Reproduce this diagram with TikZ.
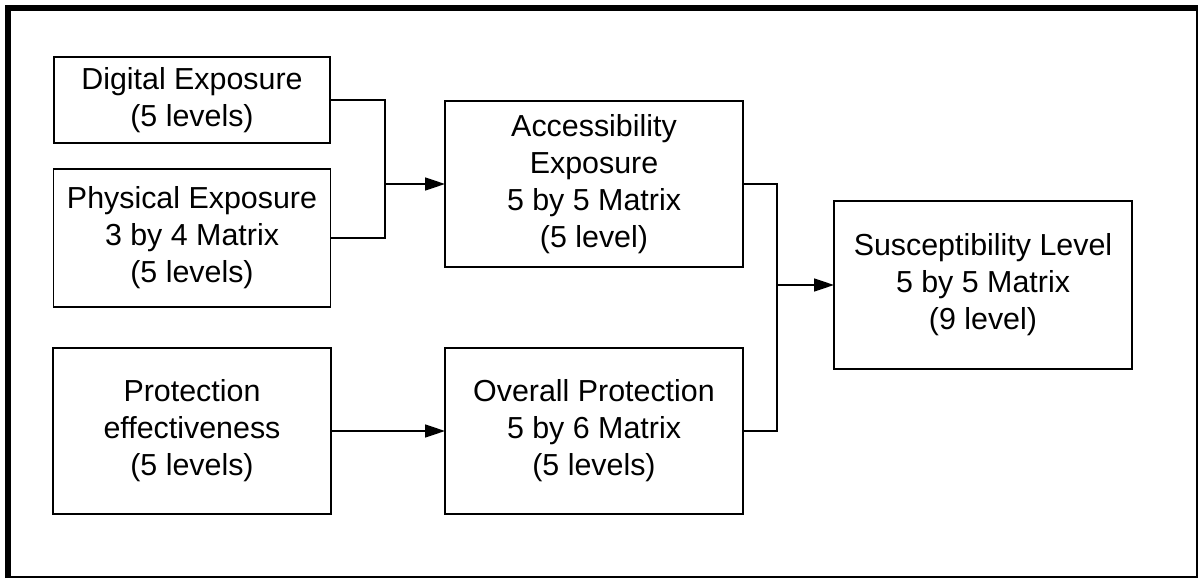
\documentclass[tikz,border=0pt]{standalone}
\usepackage{fontspec}
\setmainfont{Liberation Sans}
\usetikzlibrary{arrows.meta}
\begin{document}
\begin{tikzpicture}[
  x=0.02cm, y=-0.02cm,
  box/.style = {shape=rectangle, draw, line width=0.9pt,
    align=center, inner sep=0pt, outer sep=0pt,
    font=\fontsize{17.3}{21}\selectfont},
  link/.style = {line width=0.9pt},
  arr/.style = {link, -{Triangle[length=0.4cm, width=0.26cm]}}
  ]
  \useasboundingbox (0,0) rectangle (1201,581);
  % frame
  \draw[line width=1.6pt] (8,8) rectangle (1197,577);
  \draw[line width=3.2pt] (8,578) -- (8,8) -- (1198,8);
  % left column
  \node[box, minimum width=276*0.02cm, minimum height=86*0.02cm]
    (digital) at (192,100) {Digital Exposure\\(5 levels)};
  \node[box, minimum width=277*0.02cm, minimum height=138*0.02cm]
    (physical) at (192,238) {Physical Exposure\\3 by 4 Matrix\\(5 levels)};
  \node[box, minimum width=278*0.02cm, minimum height=166*0.02cm]
    (protect) at (192,431) {Protection\\effectiveness\\(5 levels)};
  % middle column
  \node[box, minimum width=298*0.02cm, minimum height=166*0.02cm]
    (access) at (594,184) {Accessibility\\Exposure\\5 by 5 Matrix\\(5 level)};
  \node[box, minimum width=298*0.02cm, minimum height=166*0.02cm]
    (overall) at (594,431) {Overall Protection\\5 by 6 Matrix\\(5 levels)};
  % result
  \node[box, minimum width=298*0.02cm, minimum height=168*0.02cm]
    (suscept) at (983,285) {Susceptibility Level\\5 by 5 Matrix\\(9 level)};
  % joins
  \coordinate (joinA) at (385,184);
  \coordinate (joinB) at (777,285);
  \draw[link] (digital.east) -| (joinA);
  \draw[link] (physical.east) -| (joinA);
  \draw[arr] (joinA) -- (access.west);
  \draw[arr] (protect.east) -- (overall.west);
  \draw[link] (access.east) -| (joinB);
  \draw[link] (overall.east) -| (joinB);
  \draw[arr] (joinB) -- (suscept.west);
\end{tikzpicture}
\end{document}
